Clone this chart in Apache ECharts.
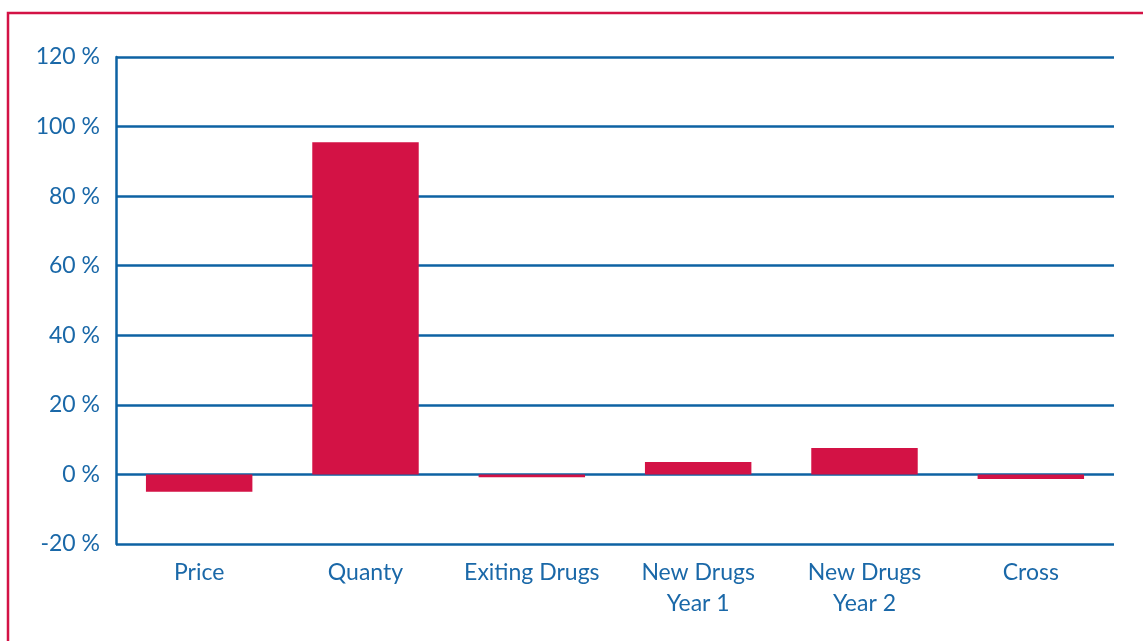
<!DOCTYPE html>
<html>
<head>
<meta charset="utf-8">
<script src="https://cdn.jsdelivr.net/npm/echarts@6/dist/echarts.min.js"></script>
<style>
  html, body { margin: 0; padding: 0; background: #ffffff; }
  #chart { width: 1143px; height: 641px; }
</style>
</head>
<body>
<div id="chart"></div>
<script>
// Contribution of each component to expenditure growth (%)
const categories = ['Price', 'Quanty', 'Exiting Drugs', 'New Drugs\nYear 1', 'New Drugs\nYear 2', 'Cross'];
const contribution = [-5.0, 95.5, -0.8, 3.6, 7.6, -1.3];
const yTicks = { min: -20, max: 120, step: 20 };

const BLUE = '#0d62a3';
const TEXT = '#1a68a8';
const RED = '#d31245';
const FONT = 'Lato, "Open Sans", sans-serif';

const chart = echarts.init(document.getElementById('chart'), null, { renderer: 'canvas' });

chart.setOption({
  animation: false,
  backgroundColor: '#ffffff',
  graphic: [
    {
      type: 'polyline',
      shape: { points: [[8, 641], [8, 13], [1143, 13]] },
      style: { stroke: RED, lineWidth: 2.5, fill: null }
    }
  ],
  grid: { left: 116, right: 29, top: 57, bottom: 97, containLabel: false },
  xAxis: {
    type: 'category',
    data: categories,
    axisLine: { show: false },
    axisTick: { show: false },
    axisLabel: {
      color: TEXT,
      fontFamily: FONT,
      fontSize: 23,
      lineHeight: 31,
      margin: 13,
      interval: 0
    }
  },
  yAxis: {
    type: 'value',
    min: yTicks.min,
    max: yTicks.max,
    interval: yTicks.step,
    axisLine: { show: true, lineStyle: { color: BLUE, width: 2.5 } },
    axisTick: { show: false },
    splitLine: { show: true, lineStyle: { color: BLUE, width: 2.5 } },
    axisLabel: {
      color: TEXT,
      fontFamily: FONT,
      fontSize: 23,
      margin: 16,
      formatter: '{value} %'
    }
  },
  series: [
    {
      type: 'bar',
      data: contribution,
      barWidth: '64%',
      itemStyle: { color: RED },
      z: 3
    }
  ]
});
</script>
</body>
</html>
